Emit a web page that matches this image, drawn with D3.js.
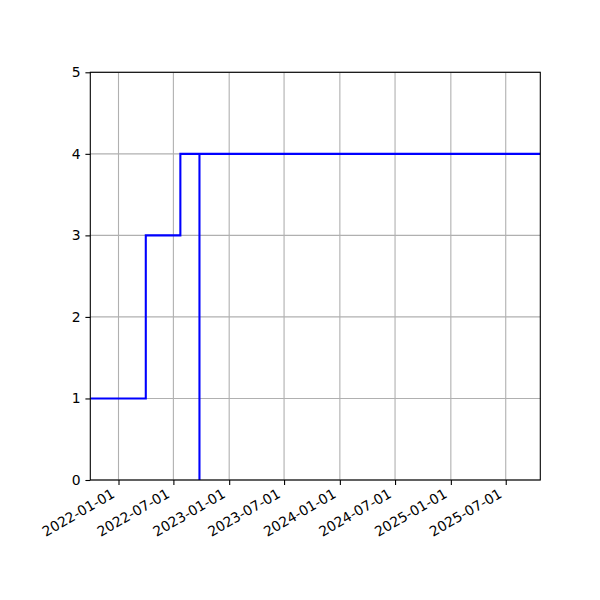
<!DOCTYPE html>
<html>
<head>
<meta charset="utf-8">
<script src="https://cdn.jsdelivr.net/npm/d3@7"></script>
<style>
  html, body { margin: 0; padding: 0; background: #fff; }
  svg { display: block; font-family: "DejaVu Sans", sans-serif; }
</style>
</head>
<body>
<svg id="chart" width="600" height="600"></svg>
<script>
// Data: step series (value holds from each date until the next)
const stepDates = ["2021-09-30", "2022-04-01", "2022-07-24", "2022-09-25", "2022-09-25", "2025-10-23"];
const stepValues = [1, 3, 4, 0, 4, 4];
const xDomain = ["2021-09-30", "2025-10-23"];
const xTickLabels = ["2022-01-01", "2022-07-01", "2023-01-01", "2023-07-01", "2024-01-01", "2024-07-01", "2025-01-01", "2025-07-01"];
const yTicks = [0, 1, 2, 3, 4, 5];

(function () {
const parse = d3.utcParse("%Y-%m-%d");
const fmt = d3.utcFormat("%Y-%m-%d");

const pLeft = 90.3, pRight = 540.3, pTop = 72.3, pBottom = 480;
const svg = d3.select("#chart");

const x = d3.scaleUtc().domain(xDomain.map(parse)).range([pLeft, pRight]);
const y = d3.scaleLinear().domain([0, 5]).range([pBottom, pTop]);

const tickDates = xTickLabels.map(parse);

// grid
const grid = svg.append("g");
grid.selectAll(".gx").data(tickDates).join("line")
  .attr("x1", d => x(d)).attr("x2", d => x(d))
  .attr("y1", pTop).attr("y2", pBottom)
  .attr("stroke", "#b0b0b0").attr("stroke-width", 1.1);
grid.selectAll(".gy").data(yTicks).join("line")
  .attr("x1", pLeft).attr("x2", pRight)
  .attr("y1", d => y(d)).attr("y2", d => y(d))
  .attr("stroke", "#b0b0b0").attr("stroke-width", 1.1);

// line
const pts = stepDates.map((d, i) => [parse(d), stepValues[i]]);
const line = d3.line().x(d => x(d[0])).y(d => y(d[1])).curve(d3.curveStepAfter);
svg.append("clipPath").attr("id", "clip").append("rect")
  .attr("x", pLeft).attr("y", pTop).attr("width", pRight - pLeft).attr("height", pBottom - pTop);
svg.append("path").datum(pts)
  .attr("d", line)
  .attr("fill", "none")
  .attr("stroke", "#0000ff")
  .attr("stroke-width", 2.1)
  .attr("stroke-linejoin", "miter")
  .attr("stroke-linecap", "butt")
  .attr("clip-path", "url(#clip)");

// axes
const xAxis = d3.axisBottom(x).tickValues(tickDates).tickSize(4.9).tickPadding(4.9).tickFormat(fmt);
const gx = svg.append("g").attr("transform", `translate(0,${pBottom})`).call(xAxis);
gx.select(".domain").remove();
gx.selectAll(".tick line").attr("stroke", "#000").attr("stroke-width", 1.1);
gx.selectAll(".tick text")
  .attr("font-size", 13.9)
  .attr("font-family", "DejaVu Sans")
  .attr("fill", "#000")
  .attr("text-anchor", "end")
  .attr("dy", null)
  .attr("y", 0)
  .attr("transform", "translate(-1.6,19.4) rotate(-30) translate(0,-3.3)");

const yAxis = d3.axisLeft(y).tickValues(yTicks).tickSize(4.9).tickPadding(4.9).tickFormat(d3.format("d"));
const gy = svg.append("g").attr("transform", `translate(${pLeft},0)`).call(yAxis);
gy.select(".domain").remove();
gy.selectAll(".tick line").attr("stroke", "#000").attr("stroke-width", 1.1);
gy.selectAll(".tick text")
  .attr("font-size", 13.9)
  .attr("font-family", "DejaVu Sans")
  .attr("fill", "#000");

// spines
svg.append("rect")
  .attr("x", pLeft).attr("y", pTop)
  .attr("width", pRight - pLeft).attr("height", pBottom - pTop)
  .attr("fill", "none").attr("stroke", "#000").attr("stroke-width", 1.1);
})();
</script>
</body>
</html>
